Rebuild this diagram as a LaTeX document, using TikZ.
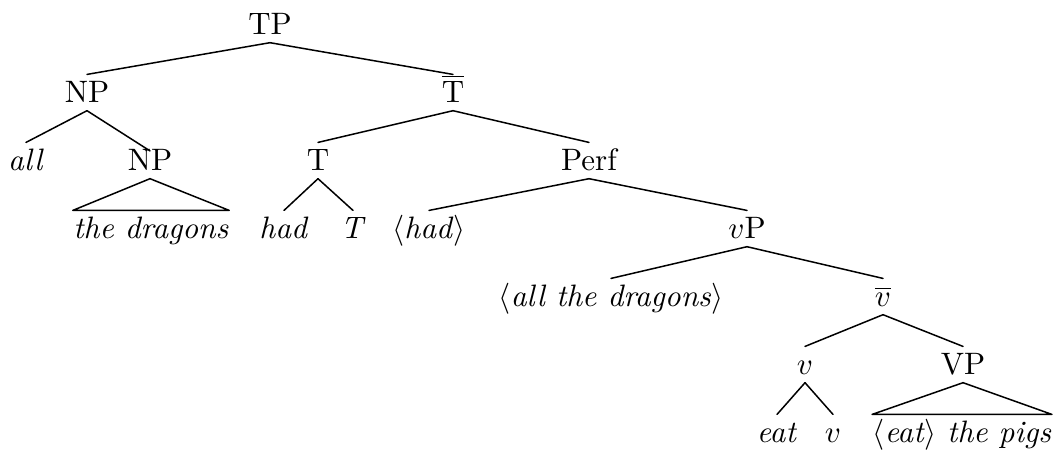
\documentclass[tikz,border=0pt]{standalone}
\begin{document}
\begin{tikzpicture}[x=0.4pt,y=-0.4pt,
  lbl/.style={anchor=base, inner sep=0pt, text height=8.7pt, text depth=2.6pt, font=\fontsize{10}{12}\selectfont, scale=1.24, transform shape},
  edge/.style={line width=0.6pt, line cap=round, line join=round}]
\useasboundingbox (0,0) rectangle (1057,455);
% nodes
\node[lbl] (TP) at (270,34) {TP};
\node[lbl] (NPa) at (87,102) {NP};
\node[lbl] (Tbar) at (453,102) {$\overline{\mathrm{T}}$};
\node[lbl] (all) at (26,170) {\textit{all}};
\node[lbl] (NPb) at (150,170) {NP};
\node[lbl] (thedragons) at (151,238) {\textit{the dragons}};
\node[lbl] (T) at (318,170) {T};
\node[lbl] (Perf) at (589,170) {Perf};
\node[lbl] (had) at (284,238) {\textit{had}};
\node[lbl] (Tit) at (353,238) {\textit{T}};
\node[lbl] (hadt) at (429,238) {$\langle$\textit{had}$\rangle$};
\node[lbl] (vP) at (747,238) {$v$P};
\node[lbl] (alldr) at (611,306) {$\langle$\textit{all the dragons}$\rangle$};
\node[lbl] (vbar) at (883,306) {$\overline{v}$};
\node[lbl] (v) at (805,374) {$v$};
\node[lbl] (VP) at (963,374) {VP};
\node[lbl] (eat) at (777,442) {\textit{eat}};
\node[lbl] (vleaf) at (833,442) {$v$};
\node[lbl] (eatpigs) at (962,442) {$\langle$\textit{eat}$\rangle$ \textit{the pigs}};
% edges
\draw[edge] (TP.south) -- (NPa.north);
\draw[edge] (TP.south) -- (Tbar.north);
\draw[edge] (NPa.south) -- (all.north);
\draw[edge] (NPa.south) -- ([yshift=-3.4pt]NPb.north);
\draw[edge] (thedragons.north west) -- (NPb.south) -- (thedragons.north east) -- cycle;
\draw[edge] (Tbar.south) -- (T.north);
\draw[edge] (Tbar.south) -- (Perf.north);
\draw[edge] (T.south) -- (had.north);
\draw[edge] (T.south) -- (Tit.north);
\draw[edge] (Perf.south) -- (hadt.north);
\draw[edge] (Perf.south) -- (vP.north);
\draw[edge] (vP.south) -- (alldr.north);
\draw[edge] (vP.south) -- (vbar.north);
\draw[edge] (vbar.south) -- (v.north);
\draw[edge] (vbar.south) -- (VP.north);
\draw[edge] (v.south) -- (eat.north);
\draw[edge] (v.south) -- (vleaf.north);
\draw[edge] (eatpigs.north west) -- (VP.south) -- (eatpigs.north east) -- cycle;
\end{tikzpicture}
\end{document}
